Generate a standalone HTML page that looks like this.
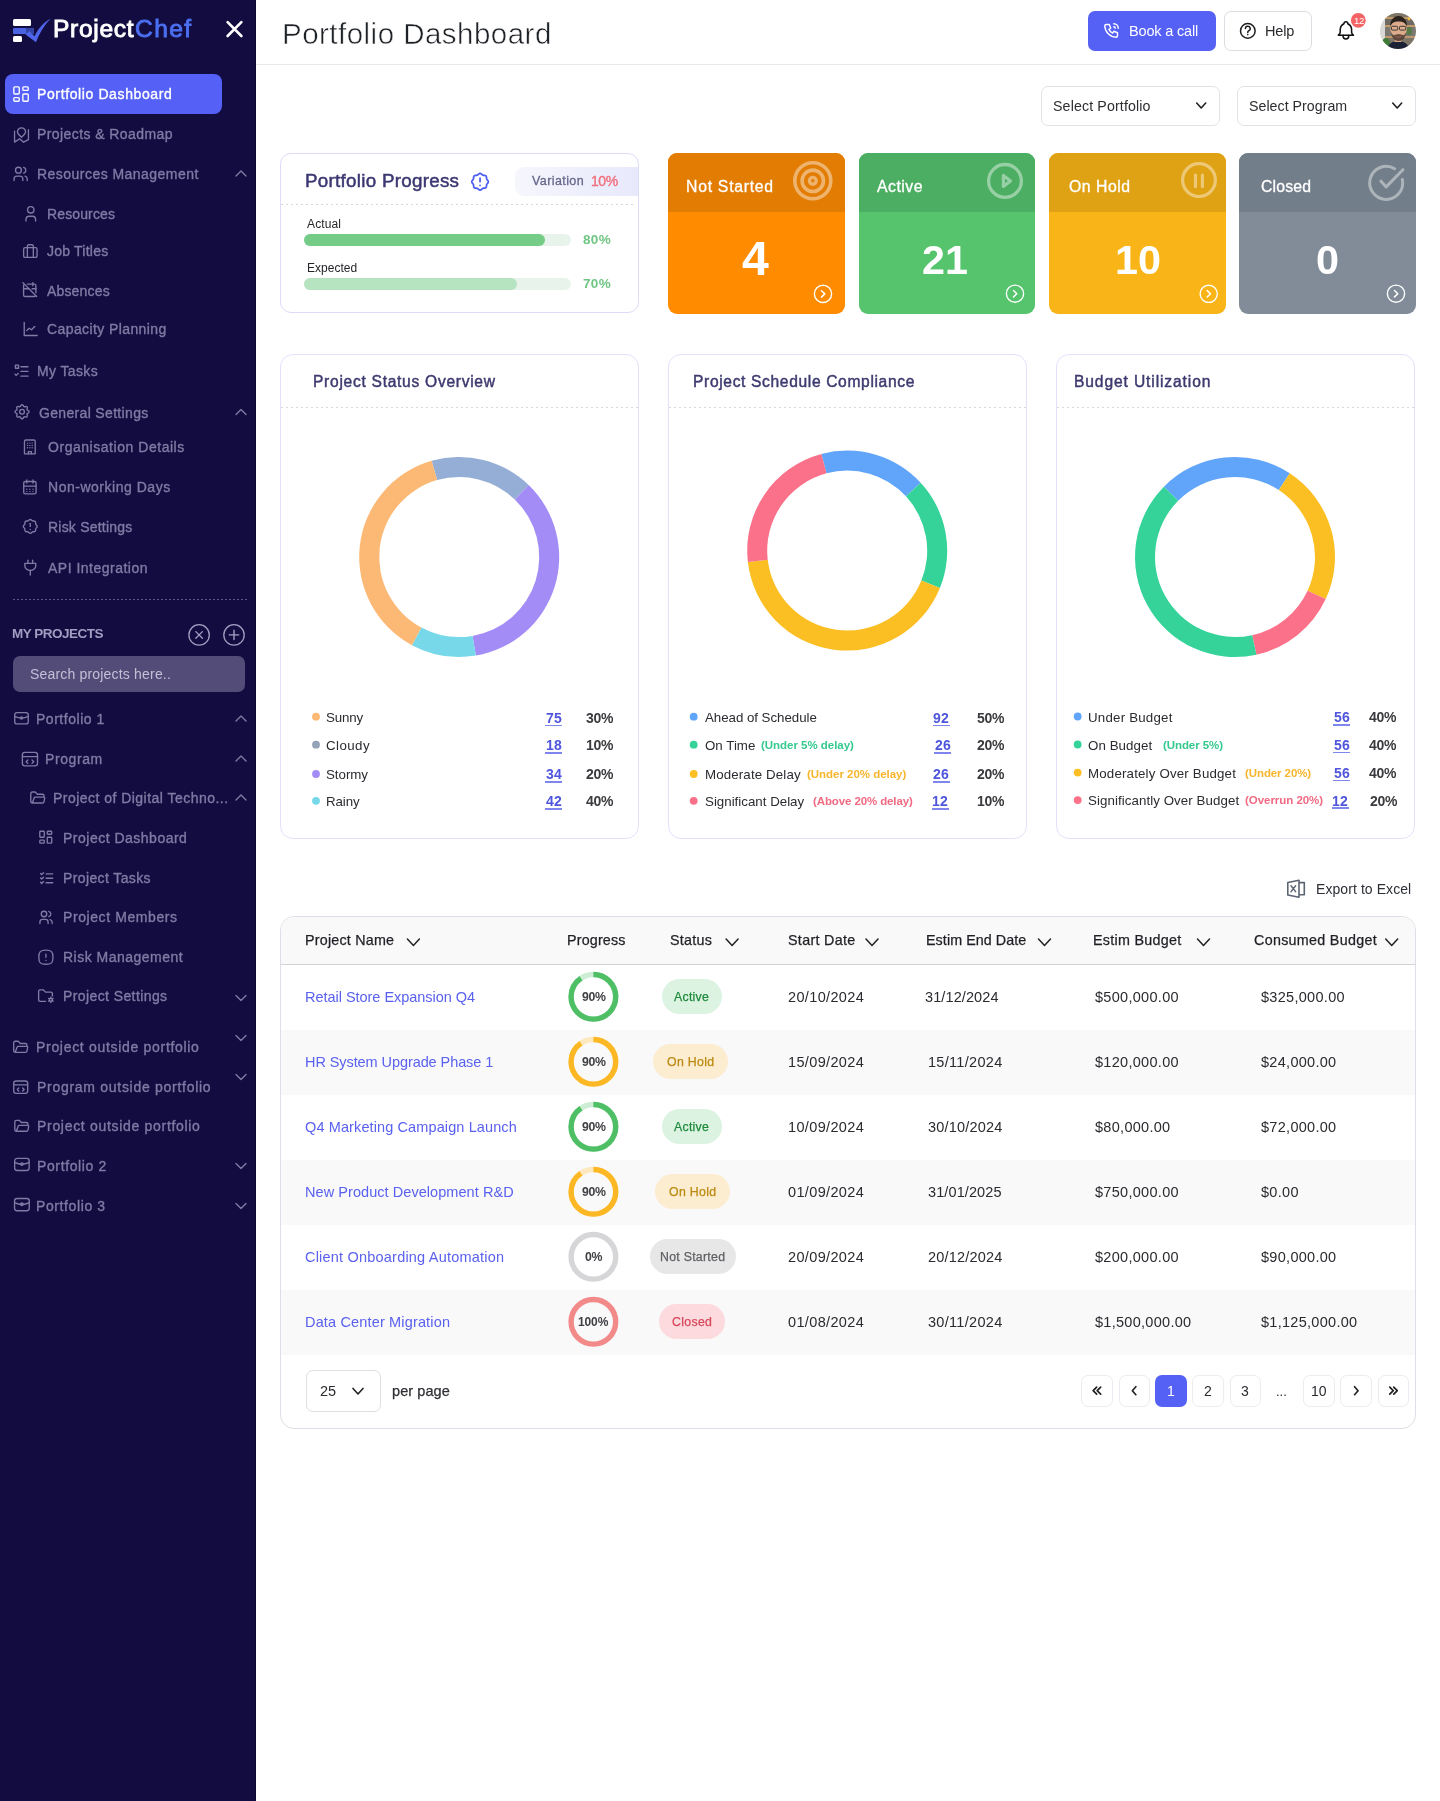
<!DOCTYPE html>
<html><head><meta charset="utf-8"><title>Portfolio Dashboard</title>
<style>
*{margin:0;padding:0;box-sizing:border-box}
html,body{width:1440px;height:1801px;overflow:hidden;background:#fff}
body{position:relative;font-family:"Liberation Sans",sans-serif}
.t{position:absolute;white-space:nowrap;line-height:1;will-change:transform}
.b{position:absolute}
svg.b{overflow:visible}
</style></head><body>
<div class="b" style="left:0px;top:0px;width:256px;height:1801px;background:#130c40"></div>
<div class="b" style="left:255px;top:0px;width:1px;height:1801px;background:#0c0733"></div>
<div class="b" style="left:13px;top:19px;width:18px;height:6.5px;background:#fff;border-radius:1.5px"></div>
<div class="b" style="left:13px;top:28px;width:13px;height:5.5px;background:#4a63e3;border-radius:1px 0 0 1px"></div>
<div class="b" style="left:26px;top:28px;width:8px;height:5.5px;background:#3447a8"></div>
<div class="b" style="left:13px;top:36px;width:8.5px;height:6px;background:#fff;border-radius:1.5px"></div>
<svg class="b" style="left:0px;top:0px;" width="1" height="1" viewBox="0 0 1 1" fill="none"><path d="M25.5 34.6 L29.2 31.2 L34.6 36.2 C38 29 43 23 50.8 18.6 C44.5 25 39.5 33 36 42.2 Z" fill="#4f66ea"/></svg>
<div class="t" style="left:52.80px;top:17.38px;font-size:24.6px;color:#ffffff;letter-spacing:0.662px;-webkit-text-stroke:0.9px #ffffff;">Project</div>
<div class="t" style="left:134.80px;top:17.38px;font-size:24.6px;color:#4b6ff0;letter-spacing:1.384px;-webkit-text-stroke:0.9px #4b6ff0;">Chef</div>
<svg class="b" style="left:0px;top:0px;" width="1" height="1" viewBox="0 0 1 1" fill="none"><path d="M227.6 22.2 L241.4 36 M241.4 22.2 L227.6 36" stroke="#fff" stroke-width="2.6" stroke-linecap="round"/></svg>
<div class="b" style="left:5px;top:74px;width:217px;height:40px;background:#5560f6;border-radius:8px"></div>
<svg class="b" style="left:0;top:0" width="1" height="1"><g transform="translate(10.25 83.20) scale(0.9000)" fill="none" stroke="#ffffff" stroke-width="1.500" stroke-linecap="round" stroke-linejoin="round"><path d="M5 4h4a1 1 0 0 1 1 1v6a1 1 0 0 1 -1 1h-4a1 1 0 0 1 -1 -1v-6a1 1 0 0 1 1 -1"/><path d="M5 16h4a1 1 0 0 1 1 1v2a1 1 0 0 1 -1 1h-4a1 1 0 0 1 -1 -1v-2a1 1 0 0 1 1 -1"/><path d="M15 12h4a1 1 0 0 1 1 1v6a1 1 0 0 1 -1 1h-4a1 1 0 0 1 -1 -1v-6a1 1 0 0 1 1 -1"/><path d="M15 4h4a1 1 0 0 1 1 1v2a1 1 0 0 1 -1 1h-4a1 1 0 0 1 -1 -1v-2a1 1 0 0 1 1 -1"/></g></svg>
<div class="t" style="left:36.70px;top:86.85px;font-size:14px;color:#ffffff;letter-spacing:0.614px;-webkit-text-stroke:0.35px #ffffff;">Portfolio Dashboard</div>
<svg class="b" style="left:0;top:0" width="1" height="1"><g transform="translate(11.57 124.99) scale(0.8272)" fill="none" stroke="#7f7ba4" stroke-width="1.632" stroke-linecap="round" stroke-linejoin="round"><path d="M3.6 7.5V20.7L9.8 16.6L14.5 20.8L20.4 17.6V5.7"/><path d="M7.1 8.3a4.9 4.9 0 1 1 9.8 0c0 2.2 -2.6 4.6 -4.9 6.5c-2.3 -1.9 -4.9 -4.3 -4.9 -6.5z"/></g></svg>
<div class="t" style="left:37.40px;top:127.15px;font-size:14px;color:#7f7ba4;letter-spacing:0.417px;-webkit-text-stroke:0.35px #7f7ba4;">Projects &amp; Roadmap</div>
<svg class="b" style="left:0;top:0" width="1" height="1"><g transform="translate(11.85 165.10) scale(0.7333)" fill="none" stroke="#7f7ba4" stroke-width="1.841" stroke-linecap="round" stroke-linejoin="round"><path d="M5 7a4 4 0 1 0 8 0a4 4 0 1 0 -8 0"/><path d="M3 21v-2a4 4 0 0 1 4 -4h4a4 4 0 0 1 4 4v2"/><path d="M16 3.13a4 4 0 0 1 0 7.75"/><path d="M21 21v-2a4 4 0 0 0 -3 -3.85"/></g></svg>
<div class="t" style="left:37.40px;top:167.15px;font-size:14px;color:#7f7ba4;letter-spacing:0.464px;-webkit-text-stroke:0.35px #7f7ba4;">Resources Management</div>
<svg class="b" style="left:0;top:0;overflow:visible" width="1" height="1"><path d="M236.0 176.0 L241 171.0 L246.0 176.0" fill="none" stroke="#7f7ba4" stroke-width="1.35" stroke-linecap="round" stroke-linejoin="round"/></svg>
<svg class="b" style="left:0;top:0" width="1" height="1"><g transform="translate(21.19 204.19) scale(0.8007)" fill="none" stroke="#7f7ba4" stroke-width="1.686" stroke-linecap="round" stroke-linejoin="round"><path d="M8 7a4 4 0 1 0 8 0a4 4 0 0 0 -8 0"/><path d="M6 21v-2a4 4 0 0 1 4 -4h4a4 4 0 0 1 4 4v2"/></g></svg>
<div class="t" style="left:46.60px;top:206.95px;font-size:14px;color:#7f7ba4;letter-spacing:0.131px;-webkit-text-stroke:0.35px #7f7ba4;">Resources</div>
<svg class="b" style="left:0;top:0" width="1" height="1"><g transform="translate(21.41 242.48) scale(0.7452)" fill="none" stroke="#7f7ba4" stroke-width="1.812" stroke-linecap="round" stroke-linejoin="round"><path d="M3 9a2 2 0 0 1 2 -2h14a2 2 0 0 1 2 2v9a2 2 0 0 1 -2 2h-14a2 2 0 0 1 -2 -2z"/><path d="M8 7v-2a2 2 0 0 1 2 -2h4a2 2 0 0 1 2 2v2"/><path d="M8 7v13"/><path d="M16 7v13"/></g></svg>
<div class="t" style="left:46.60px;top:244.45px;font-size:14px;color:#7f7ba4;letter-spacing:0.226px;-webkit-text-stroke:0.35px #7f7ba4;">Job Titles</div>
<svg class="b" style="left:0;top:0" width="1" height="1"><g transform="translate(20.52 280.32) scale(0.7694)" fill="none" stroke="#7f7ba4" stroke-width="1.755" stroke-linecap="round" stroke-linejoin="round"><path d="M9 5h9a2 2 0 0 1 2 2v9m-.184 3.839a2 2 0 0 1 -1.816 1.161h-12a2 2 0 0 1 -2 -2v-12a2 2 0 0 1 1.158 -1.815"/><path d="M16 3v4"/><path d="M4 11h7m4 0h5"/><path d="M3 3l18 18"/></g></svg>
<div class="t" style="left:47.30px;top:283.55px;font-size:14px;color:#7f7ba4;letter-spacing:0.164px;-webkit-text-stroke:0.35px #7f7ba4;">Absences</div>
<svg class="b" style="left:0;top:0" width="1" height="1"><g transform="translate(20.99 319.29) scale(0.8094)" fill="none" stroke="#7f7ba4" stroke-width="1.668" stroke-linecap="round" stroke-linejoin="round"><path d="M4 4v16h16"/><path d="M7 14l3 -3l3 2l4 -4"/></g></svg>
<div class="t" style="left:47.30px;top:322.15px;font-size:14px;color:#7f7ba4;letter-spacing:0.403px;-webkit-text-stroke:0.35px #7f7ba4;">Capacity Planning</div>
<svg class="b" style="left:0;top:0" width="1" height="1"><g transform="translate(12.27 362.01) scale(0.7854)" fill="none" stroke="#7f7ba4" stroke-width="1.719" stroke-linecap="round" stroke-linejoin="round"><path d="M4 4h4v4h-4z"/><path d="M3.5 15.5l1.5 1.5l2.5 -2.5"/><path d="M11 6h9"/><path d="M11 12h9"/><path d="M11 18h9"/></g></svg>
<div class="t" style="left:37.30px;top:364.25px;font-size:14px;color:#7f7ba4;letter-spacing:0.364px;-webkit-text-stroke:0.35px #7f7ba4;">My Tasks</div>
<svg class="b" style="left:0;top:0" width="1" height="1"><g transform="translate(12.68 402.38) scale(0.7806)" fill="none" stroke="#7f7ba4" stroke-width="1.730" stroke-linecap="round" stroke-linejoin="round"><path d="M10.325 4.317c.426 -1.756 2.924 -1.756 3.35 0a1.724 1.724 0 0 0 2.573 1.066c1.543 -.94 3.31 .826 2.37 2.37a1.724 1.724 0 0 0 1.065 2.572c1.756 .426 1.756 2.924 0 3.35a1.724 1.724 0 0 0 -1.066 2.573c.94 1.543 -.826 3.31 -2.37 2.37a1.724 1.724 0 0 0 -2.572 1.065c-.426 1.756 -2.924 1.756 -3.35 0a1.724 1.724 0 0 0 -2.573 -1.066c-1.543 .94 -3.31 -.826 -2.37 -2.37a1.724 1.724 0 0 0 -1.065 -2.572c-1.756 -.426 -1.756 -2.924 0 -3.35a1.724 1.724 0 0 0 1.066 -2.573c-.94 -1.543 .826 -3.31 2.37 -2.37c1 .608 2.296 .07 2.572 -1.065z"/><path d="M9 12a3 3 0 1 0 6 0a3 3 0 0 0 -6 0"/></g></svg>
<div class="t" style="left:38.80px;top:405.75px;font-size:14px;color:#7f7ba4;letter-spacing:0.332px;-webkit-text-stroke:0.35px #7f7ba4;">General Settings</div>
<svg class="b" style="left:0;top:0;overflow:visible" width="1" height="1"><path d="M236.0 414.5 L241 409.5 L246.0 414.5" fill="none" stroke="#7f7ba4" stroke-width="1.35" stroke-linecap="round" stroke-linejoin="round"/></svg>
<svg class="b" style="left:0;top:0" width="1" height="1"><g transform="translate(20.62 437.72) scale(0.7690)" fill="none" stroke="#7f7ba4" stroke-width="1.755" stroke-linecap="round" stroke-linejoin="round"><path d="M5 21v-16a2 2 0 0 1 2 -2h10a2 2 0 0 1 2 2v16z"/><path d="M9 7h.01M12 7h.01M15 7h.01M9 10h.01M12 10h.01M15 10h.01M9 13h.01M12 13h.01M15 13h.01"/><path d="M10 21v-3h4v3"/></g></svg>
<div class="t" style="left:47.60px;top:440.15px;font-size:14px;color:#7f7ba4;letter-spacing:0.537px;-webkit-text-stroke:0.35px #7f7ba4;">Organisation Details</div>
<svg class="b" style="left:0;top:0" width="1" height="1"><g transform="translate(20.63 477.68) scale(0.7724)" fill="none" stroke="#7f7ba4" stroke-width="1.748" stroke-linecap="round" stroke-linejoin="round"><path d="M4 7a2 2 0 0 1 2 -2h12a2 2 0 0 1 2 2v12a2 2 0 0 1 -2 2h-12a2 2 0 0 1 -2 -2v-12z"/><path d="M16 3v4"/><path d="M8 3v4"/><path d="M4 11h16"/><path d="M8 15h.01M12 15h.01M16 15h.01M8 18h.01M12 18h.01M16 18h.01"/></g></svg>
<div class="t" style="left:47.60px;top:480.15px;font-size:14px;color:#7f7ba4;letter-spacing:0.520px;-webkit-text-stroke:0.35px #7f7ba4;">Non-working Days</div>
<svg class="b" style="left:0;top:0" width="1" height="1"><g transform="translate(21.04 517.19) scale(0.7668)" fill="none" stroke="#7f7ba4" stroke-width="1.761" stroke-linecap="round" stroke-linejoin="round"><path d="M5 7.2a2.2 2.2 0 0 1 2.2 -2.2h1a2.2 2.2 0 0 0 1.55 -.64l.7 -.7a2.2 2.2 0 0 1 3.12 0l.7 .7c.412 .41 .97 .64 1.55 .64h1a2.2 2.2 0 0 1 2.2 2.2v1c0 .58 .23 1.138 .64 1.55l.7 .7a2.2 2.2 0 0 1 0 3.12l-.7 .7a2.2 2.2 0 0 0 -.64 1.55v1a2.2 2.2 0 0 1 -2.2 2.2h-1a2.2 2.2 0 0 0 -1.55 .64l-.7 .7a2.2 2.2 0 0 1 -3.12 0l-.7 -.7a2.2 2.2 0 0 0 -1.55 -.64h-1a2.2 2.2 0 0 1 -2.2 -2.2v-1a2.2 2.2 0 0 0 -.64 -1.55l-.7 -.7a2.2 2.2 0 0 1 0 -3.12l.7 -.7a2.2 2.2 0 0 0 .64 -1.55v-1"/><path d="M12 8v4"/><path d="M12 16h.01"/></g></svg>
<div class="t" style="left:47.60px;top:520.15px;font-size:14px;color:#7f7ba4;letter-spacing:0.216px;-webkit-text-stroke:0.35px #7f7ba4;">Risk Settings</div>
<svg class="b" style="left:0;top:0" width="1" height="1"><g transform="translate(20.95 557.96) scale(0.7790)" fill="none" stroke="#7f7ba4" stroke-width="1.733" stroke-linecap="round" stroke-linejoin="round"><path d="M9 3v4"/><path d="M15 3v4"/><path d="M5 7h14v3a7 6 0 0 1 -14 0z"/><path d="M12 16v6"/></g></svg>
<div class="t" style="left:48.40px;top:560.55px;font-size:14px;color:#7f7ba4;letter-spacing:0.492px;-webkit-text-stroke:0.35px #7f7ba4;">API Integration</div>
<svg class="b" style="left:0;top:0" width="1" height="1"><g transform="translate(12.50 708.93) scale(0.7497)" fill="none" stroke="#7f7ba4" stroke-width="1.801" stroke-linecap="round" stroke-linejoin="round"><path d="M3 8a3 3 0 0 1 3 -3h12a3 3 0 0 1 3 3v9a3 3 0 0 1 -3 3h-12a3 3 0 0 1 -3 -3z"/><path d="M3 10c6 3 12 3 18 0"/><path d="M10.5 12a1.5 1.5 0 1 0 3 0a1.5 1.5 0 1 0 -3 0"/></g></svg>
<div class="t" style="left:36.40px;top:711.95px;font-size:14px;color:#7f7ba4;letter-spacing:0.524px;-webkit-text-stroke:0.35px #7f7ba4;">Portfolio 1</div>
<svg class="b" style="left:0;top:0;overflow:visible" width="1" height="1"><path d="M236.0 721.0 L241 716.0 L246.0 721.0" fill="none" stroke="#7f7ba4" stroke-width="1.35" stroke-linecap="round" stroke-linejoin="round"/></svg>
<svg class="b" style="left:0;top:0" width="1" height="1"><g transform="translate(19.85 749.05) scale(0.8415)" fill="none" stroke="#7f7ba4" stroke-width="1.604" stroke-linecap="round" stroke-linejoin="round"><path d="M3 7a3 3 0 0 1 3 -3h12a3 3 0 0 1 3 3v10a3 3 0 0 1 -3 3h-12a3 3 0 0 1 -3 -3z"/><path d="M3 9h18"/><path d="M9.5 13l-2 2l2 2"/><path d="M14.5 13l2 2l-2 2"/></g></svg>
<div class="t" style="left:45.30px;top:751.95px;font-size:14px;color:#7f7ba4;letter-spacing:0.588px;-webkit-text-stroke:0.35px #7f7ba4;">Program</div>
<svg class="b" style="left:0;top:0;overflow:visible" width="1" height="1"><path d="M236.0 761.0 L241 756.0 L246.0 761.0" fill="none" stroke="#7f7ba4" stroke-width="1.35" stroke-linecap="round" stroke-linejoin="round"/></svg>
<svg class="b" style="left:0;top:0" width="1" height="1"><g transform="translate(28.58 789.11) scale(0.7335)" fill="none" stroke="#7f7ba4" stroke-width="1.840" stroke-linecap="round" stroke-linejoin="round"><path d="M5 19l2.757 -7.351a1 1 0 0 1 .936 -.649h12.307a1 1 0 0 1 .986 1.164l-.996 5.211a2 2 0 0 1 -1.964 1.625h-14.026a2 2 0 0 1 -2 -2v-11a2 2 0 0 1 2 -2h4l3 3h7a2 2 0 0 1 2 2v2"/></g></svg>
<div class="t" style="left:53.30px;top:791.05px;font-size:14px;color:#7f7ba4;letter-spacing:0.468px;-webkit-text-stroke:0.35px #7f7ba4;">Project of Digital Techno...</div>
<svg class="b" style="left:0;top:0;overflow:visible" width="1" height="1"><path d="M236.0 800.0 L241 795.0 L246.0 800.0" fill="none" stroke="#7f7ba4" stroke-width="1.35" stroke-linecap="round" stroke-linejoin="round"/></svg>
<svg class="b" style="left:0;top:0" width="1" height="1"><g transform="translate(36.83 828.28) scale(0.7437)" fill="none" stroke="#7f7ba4" stroke-width="1.815" stroke-linecap="round" stroke-linejoin="round"><path d="M5 4h4a1 1 0 0 1 1 1v6a1 1 0 0 1 -1 1h-4a1 1 0 0 1 -1 -1v-6a1 1 0 0 1 1 -1"/><path d="M5 16h4a1 1 0 0 1 1 1v2a1 1 0 0 1 -1 1h-4a1 1 0 0 1 -1 -1v-2a1 1 0 0 1 1 -1"/><path d="M15 12h4a1 1 0 0 1 1 1v6a1 1 0 0 1 -1 1h-4a1 1 0 0 1 -1 -1v-6a1 1 0 0 1 1 -1"/><path d="M15 4h4a1 1 0 0 1 1 1v2a1 1 0 0 1 -1 1h-4a1 1 0 0 1 -1 -1v-2a1 1 0 0 1 1 -1"/></g></svg>
<div class="t" style="left:62.60px;top:831.25px;font-size:14px;color:#7f7ba4;letter-spacing:0.497px;-webkit-text-stroke:0.35px #7f7ba4;">Project Dashboard</div>
<svg class="b" style="left:0;top:0" width="1" height="1"><g transform="translate(38.01 869.46) scale(0.7356)" fill="none" stroke="#7f7ba4" stroke-width="1.835" stroke-linecap="round" stroke-linejoin="round"><path d="M3.5 5.5l1.5 1.5l2.5 -2.5"/><path d="M3.5 11.5l1.5 1.5l2.5 -2.5"/><path d="M3.5 17.5l1.5 1.5l2.5 -2.5"/><path d="M11 6h9"/><path d="M11 12h9"/><path d="M11 18h9"/></g></svg>
<div class="t" style="left:62.60px;top:871.05px;font-size:14px;color:#7f7ba4;letter-spacing:0.385px;-webkit-text-stroke:0.35px #7f7ba4;">Project Tasks</div>
<svg class="b" style="left:0;top:0" width="1" height="1"><g transform="translate(37.85 909.20) scale(0.6833)" fill="none" stroke="#7f7ba4" stroke-width="1.976" stroke-linecap="round" stroke-linejoin="round"><path d="M5 7a4 4 0 1 0 8 0a4 4 0 1 0 -8 0"/><path d="M3 21v-2a4 4 0 0 1 4 -4h4a4 4 0 0 1 4 4v2"/><path d="M16 3.13a4 4 0 0 1 0 7.75"/><path d="M21 21v-2a4 4 0 0 0 -3 -3.85"/></g></svg>
<div class="t" style="left:62.60px;top:910.35px;font-size:14px;color:#7f7ba4;letter-spacing:0.586px;-webkit-text-stroke:0.35px #7f7ba4;">Project Members</div>
<svg class="b" style="left:0;top:0" width="1" height="1"><g transform="translate(36.50 947.85) scale(0.7833)" fill="none" stroke="#7f7ba4" stroke-width="1.723" stroke-linecap="round" stroke-linejoin="round"><path d="M12 3c7.2 0 9 1.8 9 9s-1.8 9 -9 9s-9 -1.8 -9 -9s1.8 -9 9 -9z"/><path d="M12 8v4"/><path d="M12 16h.01"/></g></svg>
<div class="t" style="left:62.60px;top:950.35px;font-size:14px;color:#7f7ba4;letter-spacing:0.491px;-webkit-text-stroke:0.35px #7f7ba4;">Risk Management</div>
<svg class="b" style="left:0;top:0" width="1" height="1"><g transform="translate(36.33 986.00) scale(0.7658)" fill="none" stroke="#7f7ba4" stroke-width="1.763" stroke-linecap="round" stroke-linejoin="round"><path d="M12 20h-7a2 2 0 0 1 -2 -2v-11a2 2 0 0 1 2 -2h4l3 3h7a2 2 0 0 1 2 2v3"/><path d="M17 18a2 2 0 1 0 4 0a2 2 0 1 0 -4 0"/><path d="M19 14.5v1.5M19 20v1.5M22 16.3l-1.3 .7M17.3 19l-1.3 .7M16 16.3l1.3 .7M20.7 19l1.3 .7"/></g></svg>
<div class="t" style="left:62.60px;top:989.45px;font-size:14px;color:#7f7ba4;letter-spacing:0.403px;-webkit-text-stroke:0.35px #7f7ba4;">Project Settings</div>
<svg class="b" style="left:0;top:0;overflow:visible" width="1" height="1"><path d="M236.0 995.5 L241 1000.5 L246.0 995.5" fill="none" stroke="#7f7ba4" stroke-width="1.35" stroke-linecap="round" stroke-linejoin="round"/></svg>
<svg class="b" style="left:0;top:0" width="1" height="1"><g transform="translate(11.50 1038.34) scale(0.7356)" fill="none" stroke="#7f7ba4" stroke-width="1.835" stroke-linecap="round" stroke-linejoin="round"><path d="M5 19l2.757 -7.351a1 1 0 0 1 .936 -.649h12.307a1 1 0 0 1 .986 1.164l-.996 5.211a2 2 0 0 1 -1.964 1.625h-14.026a2 2 0 0 1 -2 -2v-11a2 2 0 0 1 2 -2h4l3 3h7a2 2 0 0 1 2 2v2"/></g></svg>
<div class="t" style="left:36.40px;top:1040.15px;font-size:14px;color:#7f7ba4;letter-spacing:0.692px;-webkit-text-stroke:0.35px #7f7ba4;">Project outside portfolio</div>
<svg class="b" style="left:0;top:0;overflow:visible" width="1" height="1"><path d="M236.0 1035.5 L241 1040.5 L246.0 1035.5" fill="none" stroke="#7f7ba4" stroke-width="1.35" stroke-linecap="round" stroke-linejoin="round"/></svg>
<svg class="b" style="left:0;top:0" width="1" height="1"><g transform="translate(11.40 1077.90) scale(0.7752)" fill="none" stroke="#7f7ba4" stroke-width="1.742" stroke-linecap="round" stroke-linejoin="round"><path d="M3 7a3 3 0 0 1 3 -3h12a3 3 0 0 1 3 3v10a3 3 0 0 1 -3 3h-12a3 3 0 0 1 -3 -3z"/><path d="M3 9h18"/><path d="M9.5 13l-2 2l2 2"/><path d="M14.5 13l2 2l-2 2"/></g></svg>
<div class="t" style="left:37.30px;top:1080.15px;font-size:14px;color:#7f7ba4;letter-spacing:0.715px;-webkit-text-stroke:0.35px #7f7ba4;">Program outside portfolio</div>
<svg class="b" style="left:0;top:0;overflow:visible" width="1" height="1"><path d="M236.0 1074.5 L241 1079.5 L246.0 1074.5" fill="none" stroke="#7f7ba4" stroke-width="1.35" stroke-linecap="round" stroke-linejoin="round"/></svg>
<svg class="b" style="left:0;top:0" width="1" height="1"><g transform="translate(12.62 1117.40) scale(0.7302)" fill="none" stroke="#7f7ba4" stroke-width="1.849" stroke-linecap="round" stroke-linejoin="round"><path d="M5 19l2.757 -7.351a1 1 0 0 1 .936 -.649h12.307a1 1 0 0 1 .986 1.164l-.996 5.211a2 2 0 0 1 -1.964 1.625h-14.026a2 2 0 0 1 -2 -2v-11a2 2 0 0 1 2 -2h4l3 3h7a2 2 0 0 1 2 2v2"/></g></svg>
<div class="t" style="left:37.30px;top:1119.25px;font-size:14px;color:#7f7ba4;letter-spacing:0.692px;-webkit-text-stroke:0.35px #7f7ba4;">Project outside portfolio</div>
<svg class="b" style="left:0;top:0" width="1" height="1"><g transform="translate(12.24 1154.38) scale(0.8053)" fill="none" stroke="#7f7ba4" stroke-width="1.676" stroke-linecap="round" stroke-linejoin="round"><path d="M3 8a3 3 0 0 1 3 -3h12a3 3 0 0 1 3 3v9a3 3 0 0 1 -3 3h-12a3 3 0 0 1 -3 -3z"/><path d="M3 10c6 3 12 3 18 0"/><path d="M10.5 12a1.5 1.5 0 1 0 3 0a1.5 1.5 0 1 0 -3 0"/></g></svg>
<div class="t" style="left:37.30px;top:1159.25px;font-size:14px;color:#7f7ba4;letter-spacing:0.624px;-webkit-text-stroke:0.35px #7f7ba4;">Portfolio 2</div>
<svg class="b" style="left:0;top:0;overflow:visible" width="1" height="1"><path d="M236.0 1163.5 L241 1168.5 L246.0 1163.5" fill="none" stroke="#7f7ba4" stroke-width="1.35" stroke-linecap="round" stroke-linejoin="round"/></svg>
<svg class="b" style="left:0;top:0" width="1" height="1"><g transform="translate(12.08 1194.42) scale(0.8186)" fill="none" stroke="#7f7ba4" stroke-width="1.649" stroke-linecap="round" stroke-linejoin="round"><path d="M3 8a3 3 0 0 1 3 -3h12a3 3 0 0 1 3 3v9a3 3 0 0 1 -3 3h-12a3 3 0 0 1 -3 -3z"/><path d="M3 10c6 3 12 3 18 0"/><path d="M10.5 12a1.5 1.5 0 1 0 3 0a1.5 1.5 0 1 0 -3 0"/></g></svg>
<div class="t" style="left:36.40px;top:1199.25px;font-size:14px;color:#7f7ba4;letter-spacing:0.606px;-webkit-text-stroke:0.35px #7f7ba4;">Portfolio 3</div>
<svg class="b" style="left:0;top:0;overflow:visible" width="1" height="1"><path d="M236.0 1203.5 L241 1208.5 L246.0 1203.5" fill="none" stroke="#7f7ba4" stroke-width="1.35" stroke-linecap="round" stroke-linejoin="round"/></svg>
<div class="b" style="left:13px;top:599px;width:234px;height:1px;background-image:linear-gradient(to right,#5d5782 50%,transparent 50%);background-size:4px 1px"></div>
<div class="t" style="left:12.40px;top:626.67px;font-size:13.5px;color:#a29ec2;font-weight:700;letter-spacing:-0.493px;">MY PROJECTS</div>
<svg class="b" style="left:0px;top:0px;" width="1" height="1" viewBox="0 0 1 1" fill="none"><circle cx="199.1" cy="634.9" r="10.2" stroke="#a29ec2" stroke-width="1.3"/><path d="M195.8 631.6l6.6 6.6M202.4 631.6l-6.6 6.6" stroke="#a29ec2" stroke-width="1.3" stroke-linecap="round"/><circle cx="234" cy="634.9" r="10.2" stroke="#a29ec2" stroke-width="1.3"/><path d="M234 630.2v9.4M229.3 634.9h9.4" stroke="#a29ec2" stroke-width="1.4" stroke-linecap="round"/></svg>
<div class="b" style="left:13px;top:656px;width:232px;height:36px;background:#544c78;border-radius:7px"></div>
<div class="t" style="left:30.20px;top:667.15px;font-size:14px;color:#c3bfd6;letter-spacing:0.184px;">Search projects here..</div>
<div class="b" style="left:256px;top:64px;width:1184px;height:1px;background:#e9e9ee"></div>
<div class="t" style="left:281.50px;top:18.78px;font-size:29.5px;color:#1e2126;letter-spacing:0.477px;-webkit-text-stroke:0.55px #fff">Portfolio Dashboard</div>
<div class="b" style="left:1088px;top:11px;width:128px;height:40px;background:#5560f5;border-radius:7px"></div>
<svg class="b" style="left:0px;top:0px;" width="1" height="1" viewBox="0 0 1 1" fill="none"><g transform="translate(1102.5 21.5) scale(0.75)" fill="none" stroke="#fff" stroke-width="1.9" stroke-linecap="round" stroke-linejoin="round"><path d="M5 4h4l2 5l-2.5 1.5a11 11 0 0 0 5 5l1.5 -2.5l5 2v4a2 2 0 0 1 -2 2a16 16 0 0 1 -15 -15a2 2 0 0 1 2 -2"/><path d="M15 7a2 2 0 0 1 2 2"/><path d="M15 3a6 6 0 0 1 6 6"/></g></svg>
<div class="t" style="left:1128.50px;top:23.73px;font-size:14.5px;color:#ffffff;letter-spacing:-0.175px;">Book a call</div>
<div class="b" style="left:1223.5px;top:11px;width:88.0px;height:40px;border:1px solid #dcdde3;border-radius:7px;background:#fff"></div>
<svg class="b" style="left:0px;top:0px;" width="1" height="1" viewBox="0 0 1 1" fill="none"><circle cx="1247.8" cy="30.9" r="7.3" stroke="#1d1d1f" stroke-width="1.5"/><path d="M1245.4 28.6a2.4 2.4 0 1 1 3.3 2.2c-.5 .25 -.9 .7 -.9 1.3v.4" stroke="#1d1d1f" stroke-width="1.5" stroke-linecap="round"/><circle cx="1247.8" cy="34.6" r=".8" fill="#1d1d1f"/></svg>
<div class="t" style="left:1264.80px;top:23.93px;font-size:14.5px;color:#2a2a2e;letter-spacing:-0.156px;">Help</div>
<svg class="b" style="left:0px;top:0px;" width="1" height="1" viewBox="0 0 1 1" fill="none"><g transform="translate(1334.5 19) scale(0.95)" fill="none" stroke="#111" stroke-width="1.6" stroke-linecap="round" stroke-linejoin="round"><path d="M10 5a2 2 0 1 1 4 0a7 7 0 0 1 4 6v3a4 4 0 0 0 2 3h-16a4 4 0 0 0 2 -3v-3a7 7 0 0 1 4 -6"/><path d="M9 17v1a3 3 0 0 0 6 0v-1"/></g></svg>
<svg class="b" style="left:0px;top:0px;" width="1" height="1" viewBox="0 0 1 1" fill="none"><circle cx="1358.3" cy="20.3" r="7.4" fill="#f36466"/></svg>
<div class="t" style="left:1353.50px;top:15.67px;font-size:9.6px;color:#ffffff;letter-spacing:-0.339px;">12</div>
<svg class="b" style="left:0px;top:0px;" width="1" height="1" viewBox="0 0 1 1" fill="none"><defs><clipPath id="av"><circle cx="1398" cy="31" r="18"/></clipPath><filter id="avb" x="-10%" y="-10%" width="120%" height="120%"><feGaussianBlur stdDeviation="0.55"/></filter></defs>
<g clip-path="url(#av)"><g filter="url(#avb)"><rect x="1378" y="11" width="40" height="40" fill="#7d7466"/>
<rect x="1379" y="11" width="6" height="40" fill="#d8d8d6"/>
<rect x="1385" y="17" width="33" height="2.2" fill="#c39a6c"/><rect x="1385" y="25" width="33" height="2" fill="#c39a6c"/><rect x="1385" y="36" width="33" height="2" fill="#c09670"/>
<rect x="1385" y="19" width="33" height="6" fill="#6f6a62"/><rect x="1385" y="27" width="33" height="9" fill="#7a7870"/>
<circle cx="1409" cy="19" r="1.4" fill="#f2c04a"/>
<ellipse cx="1409" cy="31" rx="3" ry="4" fill="#4f7a3a" opacity=".8"/>
<ellipse cx="1386" cy="43" rx="4" ry="5" fill="#3f7a38"/>
<path d="M1386 52c1.5-8 6-11 12-11s11 3 12.5 11z" fill="#1b2436"/>
<rect x="1394.5" y="36" width="7" height="6" fill="#d5a283"/>
<ellipse cx="1398.6" cy="29" rx="8.3" ry="10.2" fill="#dcab8c"/>
<path d="M1390.3 27c-.5-7 3.5-11 8.3-11s8.8 4 8.3 11c-1.2-4-3.5-5.5-8.3-5.5s-7.2 1.5-8.3 5.5z" fill="#2a211c"/>
<path d="M1390.8 31c.6 7 4 10 7.8 10s7.2-3 7.8-10c-.8 3-2.2 4.3-3.3 4.3c-1.5-.9-3-1.1-4.5-1.1s-3 .2-4.5 1.1c-1 0-2.5-1.3-3.3-4.3z" fill="#4a3a30" opacity=".85"/>
<path d="M1395.5 36.2c1 .8 2 1 3 1s2-.2 3-1" stroke="#b46a5a" stroke-width=".8" fill="none"/>
<rect x="1391.5" y="26.3" width="6.2" height="3.8" rx="1" fill="none" stroke="#3a3633" stroke-width="1"/><rect x="1399.5" y="26.3" width="6.2" height="3.8" rx="1" fill="none" stroke="#3a3633" stroke-width="1"/>
</g></g></svg>
<div class="b" style="left:1041px;top:86px;width:179px;height:39.5px;border:1px solid #e2e2e8;border-radius:7px;background:#fff"></div>
<div class="t" style="left:1053.30px;top:98.98px;font-size:14.2px;color:#2d2d31;letter-spacing:0.137px;">Select Portfolio</div>
<svg class="b" style="left:0;top:0;overflow:visible" width="1" height="1"><path d="M1196.7 103.0 L1201.2 108.0 L1205.7 103.0" fill="none" stroke="#222" stroke-width="1.6" stroke-linecap="round" stroke-linejoin="round"/></svg>
<div class="b" style="left:1237px;top:86px;width:179px;height:39.5px;border:1px solid #e2e2e8;border-radius:7px;background:#fff"></div>
<div class="t" style="left:1249.20px;top:98.98px;font-size:14.2px;color:#2d2d31;letter-spacing:0.031px;">Select Program</div>
<svg class="b" style="left:0;top:0;overflow:visible" width="1" height="1"><path d="M1392.7 103.0 L1397.2 108.0 L1401.7 103.0" fill="none" stroke="#222" stroke-width="1.6" stroke-linecap="round" stroke-linejoin="round"/></svg>
<div class="b" style="left:280px;top:153px;width:359px;height:160px;border:1px solid #dcdcfa;border-radius:11px;background:#fff"></div>
<div class="t" style="left:304.90px;top:172.39px;font-size:18.8px;color:#3b3772;letter-spacing:0.276px;-webkit-text-stroke:0.5px #3b3772;">Portfolio Progress</div>
<svg class="b" style="left:0px;top:0px;" width="1" height="1" viewBox="0 0 1 1" fill="none"><g transform="translate(469 170.7) scale(0.92)" fill="none" stroke="#4b5cf2" stroke-width="1.9" stroke-linecap="round" stroke-linejoin="round"><path d="M5 7.2a2.2 2.2 0 0 1 2.2 -2.2h1a2.2 2.2 0 0 0 1.55 -.64l.7 -.7a2.2 2.2 0 0 1 3.12 0l.7 .7c.412 .41 .97 .64 1.55 .64h1a2.2 2.2 0 0 1 2.2 2.2v1c0 .58 .23 1.138 .64 1.55l.7 .7a2.2 2.2 0 0 1 0 3.12l-.7 .7a2.2 2.2 0 0 0 -.64 1.55v1a2.2 2.2 0 0 1 -2.2 2.2h-1a2.2 2.2 0 0 0 -1.55 .64l-.7 .7a2.2 2.2 0 0 1 -3.12 0l-.7 -.7a2.2 2.2 0 0 0 -1.55 -.64h-1a2.2 2.2 0 0 1 -2.2 -2.2v-1a2.2 2.2 0 0 0 -.64 -1.55l-.7 -.7a2.2 2.2 0 0 1 0 -3.12l.7 -.7a2.2 2.2 0 0 0 .64 -1.55v-1"/><path d="M12 8v4"/><path d="M12 16h.01"/></g></svg>
<div class="b" style="left:515px;top:166.5px;width:124px;height:29.5px;background:linear-gradient(to right,#f6f6fd,#e7e9fb);border-radius:9px 0 0 9px"></div>
<div class="b" style="left:638px;top:166.5px;width:1px;height:29.5px;background:#dcdcfa"></div>
<div class="t" style="left:532.20px;top:175.02px;font-size:12.5px;color:#67678a;letter-spacing:0.410px;-webkit-text-stroke:0.3px #67678a;">Variation</div>
<div class="t" style="left:591.30px;top:173.75px;font-size:14px;color:#f2707e;letter-spacing:-0.440px;-webkit-text-stroke:0.4px #f2707e;">10%</div>
<div class="b" style="left:281px;top:204px;width:353px;height:1px;background-image:linear-gradient(to right,#d6d6dc 50%,transparent 50%);background-size:5px 1px"></div>
<div class="t" style="left:307.20px;top:217.74px;font-size:12px;color:#26262a;letter-spacing:0.125px;">Actual</div>
<div class="b" style="left:304px;top:234px;width:266.5px;height:12px;background:#e8f4eb;border-radius:6px"></div>
<div class="b" style="left:304px;top:234px;width:240.5px;height:12px;background:#74cc87;border-radius:6px"></div>
<div class="t" style="left:583.00px;top:233.47px;font-size:13.5px;color:#6fc683;font-weight:700;letter-spacing:0.327px;">80%</div>
<div class="t" style="left:307.40px;top:262.04px;font-size:12px;color:#26262a;letter-spacing:0.008px;">Expected</div>
<div class="b" style="left:304px;top:278px;width:266.5px;height:12px;background:#e8f4eb;border-radius:6px"></div>
<div class="b" style="left:304px;top:278px;width:213px;height:12px;background:#b6e3c0;border-radius:6px"></div>
<div class="t" style="left:583.00px;top:277.47px;font-size:13.5px;color:#6fc683;font-weight:700;letter-spacing:0.327px;">70%</div>
<div class="b" style="left:668px;top:153px;width:177px;height:161px;background:#ff8b00;border-radius:9px;overflow:hidden"></div>
<div class="b" style="left:668px;top:153px;width:177px;height:59px;background:#e27c03;border-radius:9px 9px 0 0"></div>
<div class="t" style="left:685.70px;top:179.33px;font-size:15.8px;color:#ffffff;letter-spacing:0.725px;-webkit-text-stroke:0.3px #ffffff;">Not Started</div>
<div class="t" style="left:742.20px;top:234.20px;font-size:48.2px;color:#ffffff;font-weight:700;">4</div>
<svg class="b" style="left:0px;top:0px;" width="1" height="1" viewBox="0 0 1 1" fill="none"><circle cx="812.8" cy="180.8" r="18" stroke="rgba(255,255,255,0.42)" stroke-width="3.6"/><circle cx="812.8" cy="180.8" r="10.7" stroke="rgba(255,255,255,0.42)" stroke-width="3.6"/><circle cx="812.8" cy="180.8" r="3.4" stroke="rgba(255,255,255,0.42)" stroke-width="3.4"/></svg>
<svg class="b" style="left:0px;top:0px;" width="1" height="1" viewBox="0 0 1 1" fill="none"><circle cx="823" cy="293.9" r="8.6" stroke="#fff" stroke-width="1.4"/><path d="M821.5 290.7 L824.8 293.9 L821.5 297.09999999999997" stroke="#fff" stroke-width="1.5" stroke-linecap="round" stroke-linejoin="round"/></svg>
<div class="b" style="left:859px;top:153px;width:176px;height:161px;background:#55c46c;border-radius:9px;overflow:hidden"></div>
<div class="b" style="left:859px;top:153px;width:176px;height:59px;background:#4cae62;border-radius:9px 9px 0 0"></div>
<div class="t" style="left:877.10px;top:179.33px;font-size:15.8px;color:#ffffff;letter-spacing:0.496px;-webkit-text-stroke:0.3px #ffffff;">Active</div>
<div class="t" style="left:921.83px;top:239.64px;font-size:41.3px;color:#ffffff;font-weight:700;">21</div>
<svg class="b" style="left:0px;top:0px;" width="1" height="1" viewBox="0 0 1 1" fill="none"><circle cx="1005" cy="180.9" r="16.4" stroke="rgba(255,255,255,0.42)" stroke-width="3.3"/><path d="M1003.4 175.4 L1010.5 180.9 L1003.4 186.4Z" stroke="rgba(255,255,255,0.42)" stroke-width="3.2" stroke-linejoin="round"/></svg>
<svg class="b" style="left:0px;top:0px;" width="1" height="1" viewBox="0 0 1 1" fill="none"><circle cx="1015" cy="293.7" r="8.6" stroke="#fff" stroke-width="1.4"/><path d="M1013.5 290.5 L1016.8 293.7 L1013.5 296.9" stroke="#fff" stroke-width="1.5" stroke-linecap="round" stroke-linejoin="round"/></svg>
<div class="b" style="left:1049px;top:153px;width:177px;height:161px;background:#f9b418;border-radius:9px;overflow:hidden"></div>
<div class="b" style="left:1049px;top:153px;width:177px;height:59px;background:#e0a215;border-radius:9px 9px 0 0"></div>
<div class="t" style="left:1069.00px;top:179.33px;font-size:15.8px;color:#ffffff;letter-spacing:0.534px;-webkit-text-stroke:0.3px #ffffff;">On Hold</div>
<div class="t" style="left:1115.23px;top:239.64px;font-size:41.3px;color:#ffffff;font-weight:700;">10</div>
<svg class="b" style="left:0px;top:0px;" width="1" height="1" viewBox="0 0 1 1" fill="none"><circle cx="1199" cy="180.1" r="16.4" stroke="rgba(255,255,255,0.42)" stroke-width="3.2"/><path d="M1195.5 175.1v11.5M1202.4 175.1v11.5" stroke="rgba(255,255,255,0.42)" stroke-width="3.1" stroke-linecap="round"/></svg>
<svg class="b" style="left:0px;top:0px;" width="1" height="1" viewBox="0 0 1 1" fill="none"><circle cx="1208.7" cy="293.8" r="8.6" stroke="#fff" stroke-width="1.4"/><path d="M1207.2 290.6 L1210.5 293.8 L1207.2 297.0" stroke="#fff" stroke-width="1.5" stroke-linecap="round" stroke-linejoin="round"/></svg>
<div class="b" style="left:1239px;top:153px;width:177px;height:161px;background:#818c98;border-radius:9px;overflow:hidden"></div>
<div class="b" style="left:1239px;top:153px;width:177px;height:59px;background:#727e89;border-radius:9px 9px 0 0"></div>
<div class="t" style="left:1261.00px;top:179.33px;font-size:15.8px;color:#ffffff;letter-spacing:0.169px;-webkit-text-stroke:0.3px #ffffff;">Closed</div>
<div class="t" style="left:1316.02px;top:239.64px;font-size:41.3px;color:#ffffff;font-weight:700;">0</div>
<svg class="b" style="left:0px;top:0px;" width="1" height="1" viewBox="0 0 1 1" fill="none"><path d="M1402.34 179.47 A16.5 16.5 0 1 1 1394.70 168.76" stroke="rgba(255,255,255,0.42)" stroke-width="3" stroke-linecap="round"/><path d="M1381.0 181.20000000000002 L1386.2 186.9 L1402.9 169.70000000000002" stroke="rgba(255,255,255,0.42)" stroke-width="3" stroke-linecap="round" stroke-linejoin="round"/></svg>
<svg class="b" style="left:0px;top:0px;" width="1" height="1" viewBox="0 0 1 1" fill="none"><circle cx="1396" cy="293.7" r="8.6" stroke="#fff" stroke-width="1.4"/><path d="M1394.5 290.5 L1397.8 293.7 L1394.5 296.9" stroke="#fff" stroke-width="1.5" stroke-linecap="round" stroke-linejoin="round"/></svg>
<div class="b" style="left:280px;top:354px;width:359px;height:484.5px;border:1px solid #e3e2fb;border-radius:13px;background:#fff"></div>
<div class="t" style="left:312.50px;top:374.49px;font-size:15.6px;color:#3d3a6f;letter-spacing:0.710px;-webkit-text-stroke:0.45px #3d3a6f;">Project Status Overview</div>
<div class="b" style="left:281px;top:407px;width:357px;height:1px;background-image:linear-gradient(to right,#d8d8de 50%,transparent 50%);background-size:5px 1px"></div>
<svg class="b" style="left:0px;top:0px;" width="1" height="1" viewBox="0 0 1 1" fill="none"><path d="M431.64 460.87 A100 100 0 0 1 528.67 485.07 L514.77 499.45 A80 80 0 0 0 437.15 480.10Z" fill="#94aed6"/><path d="M528.67 485.07 A100 100 0 0 1 475.88 655.60 L472.54 635.88 A80 80 0 0 0 514.77 499.45Z" fill="#a48cf6"/><path d="M475.88 655.60 A100 100 0 0 1 411.94 645.13 L421.40 627.50 A80 80 0 0 0 472.54 635.88Z" fill="#76d8e8"/><path d="M411.94 645.13 A100 100 0 0 1 431.64 460.87 L437.15 480.10 A80 80 0 0 0 421.40 627.50Z" fill="#fbb975"/></svg>
<svg class="b" style="left:0px;top:0px;" width="1" height="1" viewBox="0 0 1 1" fill="none"><circle cx="316" cy="716.7" r="3.9" fill="#fbb975"/></svg>
<div class="t" style="left:326.40px;top:711.24px;font-size:13.3px;color:#2b2b31;letter-spacing:-0.123px;">Sunny</div>
<div class="t" style="left:545.90px;top:710.65px;font-size:14px;color:#4f56dc;font-weight:700;letter-spacing:0.114px;">75</div>
<div class="b" style="left:545.4000000000001px;top:724.5px;width:16.799999999999955px;height:1.5px;background:#7f86ee"></div>
<div class="t" style="left:586.40px;top:710.65px;font-size:14px;color:#3b3b3f;font-weight:700;letter-spacing:-0.307px;">30%</div>
<svg class="b" style="left:0px;top:0px;" width="1" height="1" viewBox="0 0 1 1" fill="none"><circle cx="316" cy="744.7" r="3.9" fill="#94a3b8"/></svg>
<div class="t" style="left:326.40px;top:738.74px;font-size:13.3px;color:#2b2b31;letter-spacing:0.433px;">Cloudy</div>
<div class="t" style="left:545.90px;top:738.15px;font-size:14px;color:#4f56dc;font-weight:700;letter-spacing:0.114px;">18</div>
<div class="b" style="left:545.4000000000001px;top:752px;width:16.799999999999955px;height:1.5px;background:#7f86ee"></div>
<div class="t" style="left:586.40px;top:738.15px;font-size:14px;color:#3b3b3f;font-weight:700;letter-spacing:-0.307px;">10%</div>
<svg class="b" style="left:0px;top:0px;" width="1" height="1" viewBox="0 0 1 1" fill="none"><circle cx="316" cy="774" r="3.9" fill="#a48cf6"/></svg>
<div class="t" style="left:326.40px;top:767.74px;font-size:13.3px;color:#2b2b31;letter-spacing:-0.020px;">Stormy</div>
<div class="t" style="left:545.90px;top:767.15px;font-size:14px;color:#4f56dc;font-weight:700;letter-spacing:0.114px;">34</div>
<div class="b" style="left:545.4000000000001px;top:781px;width:16.799999999999955px;height:1.5px;background:#7f86ee"></div>
<div class="t" style="left:586.40px;top:767.15px;font-size:14px;color:#3b3b3f;font-weight:700;letter-spacing:-0.307px;">20%</div>
<svg class="b" style="left:0px;top:0px;" width="1" height="1" viewBox="0 0 1 1" fill="none"><circle cx="316" cy="800.8" r="3.9" fill="#76d8e8"/></svg>
<div class="t" style="left:326.40px;top:794.84px;font-size:13.3px;color:#2b2b31;letter-spacing:-0.081px;">Rainy</div>
<div class="t" style="left:545.90px;top:794.25px;font-size:14px;color:#4f56dc;font-weight:700;letter-spacing:0.114px;">42</div>
<div class="b" style="left:545.4000000000001px;top:808.1px;width:16.799999999999955px;height:1.5px;background:#7f86ee"></div>
<div class="t" style="left:586.40px;top:794.25px;font-size:14px;color:#3b3b3f;font-weight:700;letter-spacing:-0.307px;">40%</div>
<div class="b" style="left:668px;top:354px;width:359px;height:484.5px;border:1px solid #e3e2fb;border-radius:13px;background:#fff"></div>
<div class="t" style="left:692.50px;top:374.49px;font-size:15.6px;color:#3d3a6f;letter-spacing:0.646px;-webkit-text-stroke:0.45px #3d3a6f;">Project Schedule Compliance</div>
<div class="b" style="left:669px;top:407px;width:357px;height:1px;background-image:linear-gradient(to right,#d8d8de 50%,transparent 50%);background-size:5px 1px"></div>
<svg class="b" style="left:0px;top:0px;" width="1" height="1" viewBox="0 0 1 1" fill="none"><path d="M821.32 454.01 A100 100 0 0 1 920.69 482.78 L905.99 496.35 A80 80 0 0 0 826.49 473.33Z" fill="#60a5fa"/><path d="M920.69 482.78 A100 100 0 0 1 939.92 588.06 L921.37 580.57 A80 80 0 0 0 905.99 496.35Z" fill="#35d399"/><path d="M939.92 588.06 A100 100 0 0 1 747.86 562.09 L767.73 559.79 A80 80 0 0 0 921.37 580.57Z" fill="#fbbf24"/><path d="M747.86 562.09 A100 100 0 0 1 821.32 454.01 L826.49 473.33 A80 80 0 0 0 767.73 559.79Z" fill="#fb7189"/></svg>
<svg class="b" style="left:0px;top:0px;" width="1" height="1" viewBox="0 0 1 1" fill="none"><circle cx="693.7" cy="716.7" r="3.9" fill="#60a5fa"/></svg>
<div class="t" style="left:704.50px;top:711.24px;font-size:13.3px;color:#2b2b31;letter-spacing:-0.036px;">Ahead of Schedule</div>
<div class="t" style="left:933.40px;top:710.65px;font-size:14px;color:#4f56dc;font-weight:700;letter-spacing:0.114px;">92</div>
<div class="b" style="left:932.9000000000001px;top:724.5px;width:16.799999999999955px;height:1.5px;background:#7f86ee"></div>
<div class="t" style="left:976.70px;top:710.65px;font-size:14px;color:#3b3b3f;font-weight:700;letter-spacing:-0.307px;">50%</div>
<svg class="b" style="left:0px;top:0px;" width="1" height="1" viewBox="0 0 1 1" fill="none"><circle cx="693.7" cy="744.7" r="3.9" fill="#35d399"/></svg>
<div class="t" style="left:704.50px;top:738.74px;font-size:13.3px;color:#2b2b31;letter-spacing:0.020px;">On Time</div>
<div class="t" style="left:761.30px;top:739.77px;font-size:11.5px;color:#35c98f;font-weight:700;letter-spacing:-0.025px;">(Under 5% delay)</div>
<div class="t" style="left:934.60px;top:738.15px;font-size:14px;color:#4f56dc;font-weight:700;letter-spacing:0.114px;">26</div>
<div class="b" style="left:934.1px;top:752px;width:16.799999999999955px;height:1.5px;background:#7f86ee"></div>
<div class="t" style="left:977.40px;top:738.15px;font-size:14px;color:#3b3b3f;font-weight:700;letter-spacing:-0.307px;">20%</div>
<svg class="b" style="left:0px;top:0px;" width="1" height="1" viewBox="0 0 1 1" fill="none"><circle cx="693.7" cy="774" r="3.9" fill="#fbbf24"/></svg>
<div class="t" style="left:704.50px;top:767.74px;font-size:13.3px;color:#2b2b31;letter-spacing:0.137px;">Moderate Delay</div>
<div class="t" style="left:807.20px;top:768.77px;font-size:11.5px;color:#f7b52c;font-weight:700;letter-spacing:-0.029px;">(Under 20% delay)</div>
<div class="t" style="left:933.40px;top:767.15px;font-size:14px;color:#4f56dc;font-weight:700;letter-spacing:0.114px;">26</div>
<div class="b" style="left:932.9000000000001px;top:781px;width:16.799999999999955px;height:1.5px;background:#7f86ee"></div>
<div class="t" style="left:976.70px;top:767.15px;font-size:14px;color:#3b3b3f;font-weight:700;letter-spacing:-0.307px;">20%</div>
<svg class="b" style="left:0px;top:0px;" width="1" height="1" viewBox="0 0 1 1" fill="none"><circle cx="693.7" cy="800.8" r="3.9" fill="#fb7189"/></svg>
<div class="t" style="left:704.50px;top:794.84px;font-size:13.3px;color:#2b2b31;letter-spacing:0.008px;">Significant Delay</div>
<div class="t" style="left:812.90px;top:795.87px;font-size:11.5px;color:#f06a83;font-weight:700;letter-spacing:-0.113px;">(Above 20% delay)</div>
<div class="t" style="left:932.30px;top:794.25px;font-size:14px;color:#4f56dc;font-weight:700;letter-spacing:0.114px;">12</div>
<div class="b" style="left:931.8000000000001px;top:808.1px;width:16.799999999999955px;height:1.5px;background:#7f86ee"></div>
<div class="t" style="left:977.40px;top:794.25px;font-size:14px;color:#3b3b3f;font-weight:700;letter-spacing:-0.307px;">10%</div>
<div class="b" style="left:1056px;top:354px;width:359px;height:484.5px;border:1px solid #e3e2fb;border-radius:13px;background:#fff"></div>
<div class="t" style="left:1074.40px;top:374.49px;font-size:15.6px;color:#3d3a6f;letter-spacing:0.883px;-webkit-text-stroke:0.45px #3d3a6f;">Budget Utilization</div>
<div class="b" style="left:1057px;top:407px;width:357px;height:1px;background-image:linear-gradient(to right,#d8d8de 50%,transparent 50%);background-size:5px 1px"></div>
<svg class="b" style="left:0px;top:0px;" width="1" height="1" viewBox="0 0 1 1" fill="none"><path d="M1163.92 486.66 A100 100 0 0 1 1289.76 473.32 L1278.81 490.06 A80 80 0 0 0 1178.14 500.73Z" fill="#60a5fa"/><path d="M1289.76 473.32 A100 100 0 0 1 1325.70 599.10 L1307.56 590.68 A80 80 0 0 0 1278.81 490.06Z" fill="#fbbf24"/><path d="M1325.70 599.10 A100 100 0 0 1 1256.47 654.67 L1252.18 635.13 A80 80 0 0 0 1307.56 590.68Z" fill="#fb7189"/><path d="M1256.47 654.67 A100 100 0 0 1 1163.92 486.66 L1178.14 500.73 A80 80 0 0 0 1252.18 635.13Z" fill="#35d399"/></svg>
<svg class="b" style="left:0px;top:0px;" width="1" height="1" viewBox="0 0 1 1" fill="none"><circle cx="1077.7" cy="716.5" r="3.9" fill="#60a5fa"/></svg>
<div class="t" style="left:1088.20px;top:710.74px;font-size:13.3px;color:#2b2b31;letter-spacing:0.210px;">Under Budget</div>
<div class="t" style="left:1333.80px;top:710.15px;font-size:14px;color:#4f56dc;font-weight:700;letter-spacing:0.114px;">56</div>
<div class="b" style="left:1333.3px;top:724px;width:16.799999999999955px;height:1.5px;background:#7f86ee"></div>
<div class="t" style="left:1368.80px;top:710.15px;font-size:14px;color:#3b3b3f;font-weight:700;letter-spacing:-0.307px;">40%</div>
<svg class="b" style="left:0px;top:0px;" width="1" height="1" viewBox="0 0 1 1" fill="none"><circle cx="1077.7" cy="744.5" r="3.9" fill="#35d399"/></svg>
<div class="t" style="left:1088.20px;top:738.54px;font-size:13.3px;color:#2b2b31;letter-spacing:0.068px;">On Budget</div>
<div class="t" style="left:1163.20px;top:739.57px;font-size:11.5px;color:#35c98f;font-weight:700;letter-spacing:-0.080px;">(Under 5%)</div>
<div class="t" style="left:1333.80px;top:737.95px;font-size:14px;color:#4f56dc;font-weight:700;letter-spacing:0.114px;">56</div>
<div class="b" style="left:1333.3px;top:751.8px;width:16.799999999999955px;height:1.5px;background:#7f86ee"></div>
<div class="t" style="left:1368.80px;top:737.95px;font-size:14px;color:#3b3b3f;font-weight:700;letter-spacing:-0.307px;">40%</div>
<svg class="b" style="left:0px;top:0px;" width="1" height="1" viewBox="0 0 1 1" fill="none"><circle cx="1077.7" cy="772.6" r="3.9" fill="#fbbf24"/></svg>
<div class="t" style="left:1088.20px;top:766.64px;font-size:13.3px;color:#2b2b31;letter-spacing:0.179px;">Moderately Over Budget</div>
<div class="t" style="left:1245.20px;top:767.67px;font-size:11.5px;color:#f7b52c;font-weight:700;letter-spacing:-0.091px;">(Under 20%)</div>
<div class="t" style="left:1333.80px;top:766.05px;font-size:14px;color:#4f56dc;font-weight:700;letter-spacing:0.114px;">56</div>
<div class="b" style="left:1333.3px;top:779.9px;width:16.799999999999955px;height:1.5px;background:#7f86ee"></div>
<div class="t" style="left:1368.80px;top:766.05px;font-size:14px;color:#3b3b3f;font-weight:700;letter-spacing:-0.307px;">40%</div>
<svg class="b" style="left:0px;top:0px;" width="1" height="1" viewBox="0 0 1 1" fill="none"><circle cx="1077.7" cy="800.1" r="3.9" fill="#fb7189"/></svg>
<div class="t" style="left:1088.20px;top:794.14px;font-size:13.3px;color:#2b2b31;letter-spacing:0.075px;">Significantly Over Budget</div>
<div class="t" style="left:1245.20px;top:795.17px;font-size:11.5px;color:#f06a83;font-weight:700;letter-spacing:-0.039px;">(Overrun 20%)</div>
<div class="t" style="left:1332.40px;top:793.55px;font-size:14px;color:#4f56dc;font-weight:700;letter-spacing:0.114px;">12</div>
<div class="b" style="left:1331.9px;top:807.4px;width:16.799999999999955px;height:1.5px;background:#7f86ee"></div>
<div class="t" style="left:1369.70px;top:793.55px;font-size:14px;color:#3b3b3f;font-weight:700;letter-spacing:-0.307px;">20%</div>
<div class="t" style="left:1315.80px;top:881.90px;font-size:14px;color:#2c2f36;letter-spacing:0.076px;">Export to Excel</div>
<svg class="b" style="left:0px;top:0px;" width="1" height="1" viewBox="0 0 1 1" fill="none"><path d="M1287.8 882.5 L1299 880.2 V897.3 L1287.8 895 Z" stroke="#5d6473" stroke-width="1.6" stroke-linejoin="round"/><path d="M1299 882.6 H1304.3 V894.8 H1299" stroke="#5d6473" stroke-width="1.6" stroke-linejoin="round"/><path d="M1291 885.8 L1295.6 891.6 M1295.6 885.8 L1291 891.6" stroke="#5d6473" stroke-width="1.5" stroke-linecap="round"/></svg>
<div class="b" style="left:280px;top:916px;width:1136px;height:513px;border:1px solid #dcdfe5;border-radius:14px;background:#fff;overflow:hidden">
<div class="b" style="left:0;top:0;width:1134px;height:48px;background:#f9f9fa;border-bottom:1px solid #d2d2d7"></div>
<div class="b" style="left:0;top:113px;width:1134px;height:65px;background:#f9f9fa"></div>
<div class="b" style="left:0;top:243px;width:1134px;height:65px;background:#f9f9fa"></div>
<div class="b" style="left:0;top:373px;width:1134px;height:65px;background:#f9f9fa"></div>
</div>
<div class="t" style="left:305.40px;top:933.00px;font-size:14.3px;color:#1f1f25;letter-spacing:0.223px;-webkit-text-stroke:0.25px #1f1f25;">Project Name</div>
<svg class="b" style="left:0;top:0;overflow:visible" width="1" height="1"><path d="M407.4 938.95 L413.4 945.45 L419.4 938.95" fill="none" stroke="#222" stroke-width="1.5" stroke-linecap="round" stroke-linejoin="round"/></svg>
<div class="t" style="left:567.30px;top:933.00px;font-size:14.3px;color:#1f1f25;letter-spacing:0.172px;-webkit-text-stroke:0.25px #1f1f25;">Progress</div>
<div class="t" style="left:669.80px;top:933.00px;font-size:14.3px;color:#1f1f25;letter-spacing:0.293px;-webkit-text-stroke:0.25px #1f1f25;">Status</div>
<svg class="b" style="left:0;top:0;overflow:visible" width="1" height="1"><path d="M726.1 938.95 L732.1 945.45 L738.1 938.95" fill="none" stroke="#222" stroke-width="1.5" stroke-linecap="round" stroke-linejoin="round"/></svg>
<div class="t" style="left:788.20px;top:933.00px;font-size:14.3px;color:#1f1f25;letter-spacing:0.322px;-webkit-text-stroke:0.25px #1f1f25;">Start Date</div>
<svg class="b" style="left:0;top:0;overflow:visible" width="1" height="1"><path d="M866.0 938.95 L872 945.45 L878.0 938.95" fill="none" stroke="#222" stroke-width="1.5" stroke-linecap="round" stroke-linejoin="round"/></svg>
<div class="t" style="left:926.10px;top:933.00px;font-size:14.3px;color:#1f1f25;letter-spacing:0.075px;-webkit-text-stroke:0.25px #1f1f25;">Estim End Date</div>
<svg class="b" style="left:0;top:0;overflow:visible" width="1" height="1"><path d="M1038.5 938.95 L1044.5 945.45 L1050.5 938.95" fill="none" stroke="#222" stroke-width="1.5" stroke-linecap="round" stroke-linejoin="round"/></svg>
<div class="t" style="left:1092.50px;top:933.00px;font-size:14.3px;color:#1f1f25;letter-spacing:0.288px;-webkit-text-stroke:0.25px #1f1f25;">Estim Budget</div>
<svg class="b" style="left:0;top:0;overflow:visible" width="1" height="1"><path d="M1197.5 938.95 L1203.5 945.45 L1209.5 938.95" fill="none" stroke="#222" stroke-width="1.5" stroke-linecap="round" stroke-linejoin="round"/></svg>
<div class="t" style="left:1254.00px;top:933.00px;font-size:14.3px;color:#1f1f25;letter-spacing:0.303px;-webkit-text-stroke:0.25px #1f1f25;">Consumed Budget</div>
<svg class="b" style="left:0;top:0;overflow:visible" width="1" height="1"><path d="M1385.7 938.95 L1391.7 945.45 L1397.7 938.95" fill="none" stroke="#222" stroke-width="1.5" stroke-linecap="round" stroke-linejoin="round"/></svg>
<div class="t" style="left:305.30px;top:989.63px;font-size:14.5px;color:#5a61ef;letter-spacing:-0.031px;">Retail Store Expansion Q4</div>
<svg class="b" style="left:0px;top:0px;" width="1" height="1" viewBox="0 0 1 1" fill="none"><circle cx="593.4" cy="996.8" r="22.3" stroke="#cdeed4" stroke-width="5.4"/><circle cx="593.4" cy="996.8" r="22.3" stroke="#4fbf65" stroke-width="5.4" stroke-dasharray="126.10 140.12" transform="rotate(-90 593.4 996.8)"/></svg>
<div class="t" style="left:581.58px;top:990.89px;font-size:12.3px;color:#404045;font-weight:700;letter-spacing:-0.328px;">90%</div>
<div class="b" style="left:662px;top:979.3px;width:60px;height:35.0px;background:#ddf3e2;border-radius:18px"></div>
<div class="t" style="left:674.41px;top:990.99px;font-size:12.3px;color:#1e8a3b;letter-spacing:0.279px;-webkit-text-stroke:0.25px #1e8a3b;">Active</div>
<div class="t" style="left:788.20px;top:989.63px;font-size:14.5px;color:#2a2a2f;letter-spacing:0.353px;">20/10/2024</div>
<div class="t" style="left:925.40px;top:989.63px;font-size:14.5px;color:#2a2a2f;letter-spacing:0.103px;">31/12/2024</div>
<div class="t" style="left:1094.60px;top:989.63px;font-size:14.5px;color:#2a2a2f;letter-spacing:0.293px;">$500,000.00</div>
<div class="t" style="left:1261.10px;top:989.63px;font-size:14.5px;color:#2a2a2f;letter-spacing:0.293px;">$325,000.00</div>
<div class="t" style="left:305.30px;top:1054.63px;font-size:14.5px;color:#5a61ef;letter-spacing:-0.080px;">HR System Upgrade Phase 1</div>
<svg class="b" style="left:0px;top:0px;" width="1" height="1" viewBox="0 0 1 1" fill="none"><circle cx="593.4" cy="1061.8" r="22.3" stroke="#fde9bd" stroke-width="5.4"/><circle cx="593.4" cy="1061.8" r="22.3" stroke="#fbb824" stroke-width="5.4" stroke-dasharray="126.10 140.12" transform="rotate(-90 593.4 1061.8)"/></svg>
<div class="t" style="left:581.58px;top:1055.89px;font-size:12.3px;color:#404045;font-weight:700;letter-spacing:-0.328px;">90%</div>
<div class="b" style="left:653px;top:1044.3px;width:75px;height:35.0px;background:#fcecd0;border-radius:18px"></div>
<div class="t" style="left:666.81px;top:1055.99px;font-size:12.3px;color:#bb8a10;letter-spacing:0.322px;-webkit-text-stroke:0.25px #bb8a10;">On Hold</div>
<div class="t" style="left:788.20px;top:1054.63px;font-size:14.5px;color:#2a2a2f;letter-spacing:0.353px;">15/09/2024</div>
<div class="t" style="left:927.90px;top:1054.63px;font-size:14.5px;color:#2a2a2f;letter-spacing:0.300px;">15/11/2024</div>
<div class="t" style="left:1094.60px;top:1054.63px;font-size:14.5px;color:#2a2a2f;letter-spacing:0.293px;">$120,000.00</div>
<div class="t" style="left:1261.10px;top:1054.63px;font-size:14.5px;color:#2a2a2f;letter-spacing:0.290px;">$24,000.00</div>
<div class="t" style="left:305.30px;top:1119.63px;font-size:14.5px;color:#5a61ef;letter-spacing:0.112px;">Q4 Marketing Campaign Launch</div>
<svg class="b" style="left:0px;top:0px;" width="1" height="1" viewBox="0 0 1 1" fill="none"><circle cx="593.4" cy="1126.8" r="22.3" stroke="#cdeed4" stroke-width="5.4"/><circle cx="593.4" cy="1126.8" r="22.3" stroke="#4fbf65" stroke-width="5.4" stroke-dasharray="126.10 140.12" transform="rotate(-90 593.4 1126.8)"/></svg>
<div class="t" style="left:581.58px;top:1120.89px;font-size:12.3px;color:#404045;font-weight:700;letter-spacing:-0.328px;">90%</div>
<div class="b" style="left:662.2px;top:1109.3px;width:59.39999999999998px;height:35.0px;background:#ddf3e2;border-radius:18px"></div>
<div class="t" style="left:674.31px;top:1120.99px;font-size:12.3px;color:#1e8a3b;letter-spacing:0.279px;-webkit-text-stroke:0.25px #1e8a3b;">Active</div>
<div class="t" style="left:788.20px;top:1119.63px;font-size:14.5px;color:#2a2a2f;letter-spacing:0.353px;">10/09/2024</div>
<div class="t" style="left:928.30px;top:1119.63px;font-size:14.5px;color:#2a2a2f;letter-spacing:0.193px;">30/10/2024</div>
<div class="t" style="left:1094.60px;top:1119.63px;font-size:14.5px;color:#2a2a2f;letter-spacing:0.290px;">$80,000.00</div>
<div class="t" style="left:1261.10px;top:1119.63px;font-size:14.5px;color:#2a2a2f;letter-spacing:0.290px;">$72,000.00</div>
<div class="t" style="left:305.30px;top:1184.63px;font-size:14.5px;color:#5a61ef;letter-spacing:0.059px;">New Product Development R&amp;D</div>
<svg class="b" style="left:0px;top:0px;" width="1" height="1" viewBox="0 0 1 1" fill="none"><circle cx="593.4" cy="1191.8" r="22.3" stroke="#fde9bd" stroke-width="5.4"/><circle cx="593.4" cy="1191.8" r="22.3" stroke="#fbb824" stroke-width="5.4" stroke-dasharray="126.10 140.12" transform="rotate(-90 593.4 1191.8)"/></svg>
<div class="t" style="left:581.58px;top:1185.89px;font-size:12.3px;color:#404045;font-weight:700;letter-spacing:-0.328px;">90%</div>
<div class="b" style="left:655.2px;top:1174.3px;width:74.59999999999991px;height:35.0px;background:#fcecd0;border-radius:18px"></div>
<div class="t" style="left:668.81px;top:1185.99px;font-size:12.3px;color:#bb8a10;letter-spacing:0.322px;-webkit-text-stroke:0.25px #bb8a10;">On Hold</div>
<div class="t" style="left:788.20px;top:1184.63px;font-size:14.5px;color:#2a2a2f;letter-spacing:0.353px;">01/09/2024</div>
<div class="t" style="left:928.30px;top:1184.63px;font-size:14.5px;color:#2a2a2f;letter-spacing:0.103px;">31/01/2025</div>
<div class="t" style="left:1094.60px;top:1184.63px;font-size:14.5px;color:#2a2a2f;letter-spacing:0.293px;">$750,000.00</div>
<div class="t" style="left:1261.10px;top:1184.63px;font-size:14.5px;color:#2a2a2f;letter-spacing:0.290px;">$0.00</div>
<div class="t" style="left:305.30px;top:1249.63px;font-size:14.5px;color:#5a61ef;letter-spacing:0.205px;">Client Onboarding Automation</div>
<svg class="b" style="left:0px;top:0px;" width="1" height="1" viewBox="0 0 1 1" fill="none"><circle cx="593.4" cy="1256.8" r="22.3" stroke="#d6d6d8" stroke-width="5.4"/></svg>
<div class="t" style="left:584.87px;top:1250.89px;font-size:12.3px;color:#404045;font-weight:700;letter-spacing:-0.356px;">0%</div>
<div class="b" style="left:650.3px;top:1239.3px;width:85.70000000000005px;height:35.0px;background:#e7e7e8;border-radius:18px"></div>
<div class="t" style="left:660.49px;top:1250.99px;font-size:12.3px;color:#5f5f64;letter-spacing:0.283px;-webkit-text-stroke:0.25px #5f5f64;">Not Started</div>
<div class="t" style="left:788.20px;top:1249.63px;font-size:14.5px;color:#2a2a2f;letter-spacing:0.353px;">20/09/2024</div>
<div class="t" style="left:928.30px;top:1249.63px;font-size:14.5px;color:#2a2a2f;letter-spacing:0.193px;">20/12/2024</div>
<div class="t" style="left:1094.60px;top:1249.63px;font-size:14.5px;color:#2a2a2f;letter-spacing:0.293px;">$200,000.00</div>
<div class="t" style="left:1261.10px;top:1249.63px;font-size:14.5px;color:#2a2a2f;letter-spacing:0.290px;">$90,000.00</div>
<div class="t" style="left:305.30px;top:1314.63px;font-size:14.5px;color:#5a61ef;letter-spacing:0.155px;">Data Center Migration</div>
<svg class="b" style="left:0px;top:0px;" width="1" height="1" viewBox="0 0 1 1" fill="none"><circle cx="593.4" cy="1321.8" r="22.3" stroke="#f28a8a" stroke-width="5.4"/></svg>
<div class="t" style="left:578.30px;top:1316.14px;font-size:12px;color:#404045;font-weight:700;letter-spacing:-0.123px;">100%</div>
<div class="b" style="left:659.3px;top:1304.3px;width:65.70000000000005px;height:35.0px;background:#fddadd;border-radius:18px"></div>
<div class="t" style="left:672.05px;top:1315.99px;font-size:12.3px;color:#d8475b;letter-spacing:0.319px;-webkit-text-stroke:0.25px #d8475b;">Closed</div>
<div class="t" style="left:788.20px;top:1314.63px;font-size:14.5px;color:#2a2a2f;letter-spacing:0.353px;">01/08/2024</div>
<div class="t" style="left:928.30px;top:1314.63px;font-size:14.5px;color:#2a2a2f;letter-spacing:0.300px;">30/11/2024</div>
<div class="t" style="left:1094.60px;top:1314.63px;font-size:14.5px;color:#2a2a2f;letter-spacing:0.285px;">$1,500,000.00</div>
<div class="t" style="left:1261.10px;top:1314.63px;font-size:14.5px;color:#2a2a2f;letter-spacing:0.285px;">$1,125,000.00</div>
<div class="b" style="left:305.5px;top:1370px;width:75.5px;height:41.5px;border:1px solid #dedee3;border-radius:7px;background:#fff"></div>
<div class="t" style="left:320.30px;top:1384.03px;font-size:14.5px;color:#2a2a2f;letter-spacing:-0.064px;">25</div>
<svg class="b" style="left:0;top:0;overflow:visible" width="1" height="1"><path d="M353.0 1388.45 L358 1393.95 L363.0 1388.45" fill="none" stroke="#222" stroke-width="1.6" stroke-linecap="round" stroke-linejoin="round"/></svg>
<div class="t" style="left:391.80px;top:1384.03px;font-size:14.5px;color:#2e2e33;letter-spacing:0.082px;-webkit-text-stroke:0.25px #2e2e33;">per page</div>
<div class="b" style="left:1081.4px;top:1375px;width:31.5px;height:31.5px;border:1px solid #ececf0;border-radius:7px;background:#fff"></div>
<svg class="b" style="left:0px;top:0px;" width="1" height="1" viewBox="0 0 1 1" fill="none"><path d="M1096.65 1387.2 L1093.15 1390.7 L1096.65 1394.2 M1100.65 1387.2 L1097.15 1390.7 L1100.65 1394.2" stroke="#222" stroke-width="1.7" stroke-linecap="round" stroke-linejoin="round"/></svg>
<div class="b" style="left:1118.6px;top:1375px;width:31.5px;height:31.5px;border:1px solid #ececf0;border-radius:7px;background:#fff"></div>
<svg class="b" style="left:0px;top:0px;" width="1" height="1" viewBox="0 0 1 1" fill="none"><path d="M1135.85 1386.7 L1132.35 1390.7 L1135.85 1394.7" stroke="#222" stroke-width="1.7" stroke-linecap="round" stroke-linejoin="round"/></svg>
<div class="b" style="left:1155px;top:1375px;width:31.5px;height:31.5px;background:#5560f5;border-radius:7px"></div>
<div class="t" style="left:1166.86px;top:1384.15px;font-size:14px;color:#ffffff;">1</div>
<div class="b" style="left:1192.3px;top:1375px;width:31.5px;height:31.5px;border:1px solid #ececf0;border-radius:7px;background:#fff"></div>
<div class="t" style="left:1204.16px;top:1384.15px;font-size:14px;color:#2a2a2f;">2</div>
<div class="b" style="left:1229.5px;top:1375px;width:31.5px;height:31.5px;border:1px solid #ececf0;border-radius:7px;background:#fff"></div>
<div class="t" style="left:1241.36px;top:1384.15px;font-size:14px;color:#2a2a2f;">3</div>
<div class="t" style="left:1276.08px;top:1384.50px;font-size:13px;color:#333;">...</div>
<div class="b" style="left:1303.4px;top:1375px;width:31.5px;height:31.5px;border:1px solid #ececf0;border-radius:7px;background:#fff"></div>
<div class="t" style="left:1311.36px;top:1384.15px;font-size:14px;color:#2a2a2f;">10</div>
<div class="b" style="left:1340.3px;top:1375px;width:31.5px;height:31.5px;border:1px solid #ececf0;border-radius:7px;background:#fff"></div>
<svg class="b" style="left:0px;top:0px;" width="1" height="1" viewBox="0 0 1 1" fill="none"><path d="M1354.55 1386.7 L1358.05 1390.7 L1354.55 1394.7" stroke="#222" stroke-width="1.7" stroke-linecap="round" stroke-linejoin="round"/></svg>
<div class="b" style="left:1377.5px;top:1375px;width:31.5px;height:31.5px;border:1px solid #ececf0;border-radius:7px;background:#fff"></div>
<svg class="b" style="left:0px;top:0px;" width="1" height="1" viewBox="0 0 1 1" fill="none"><path d="M1393.75 1387.2 L1397.25 1390.7 L1393.75 1394.2 M1389.75 1387.2 L1393.25 1390.7 L1389.75 1394.2" stroke="#222" stroke-width="1.7" stroke-linecap="round" stroke-linejoin="round"/></svg>
</body></html>
